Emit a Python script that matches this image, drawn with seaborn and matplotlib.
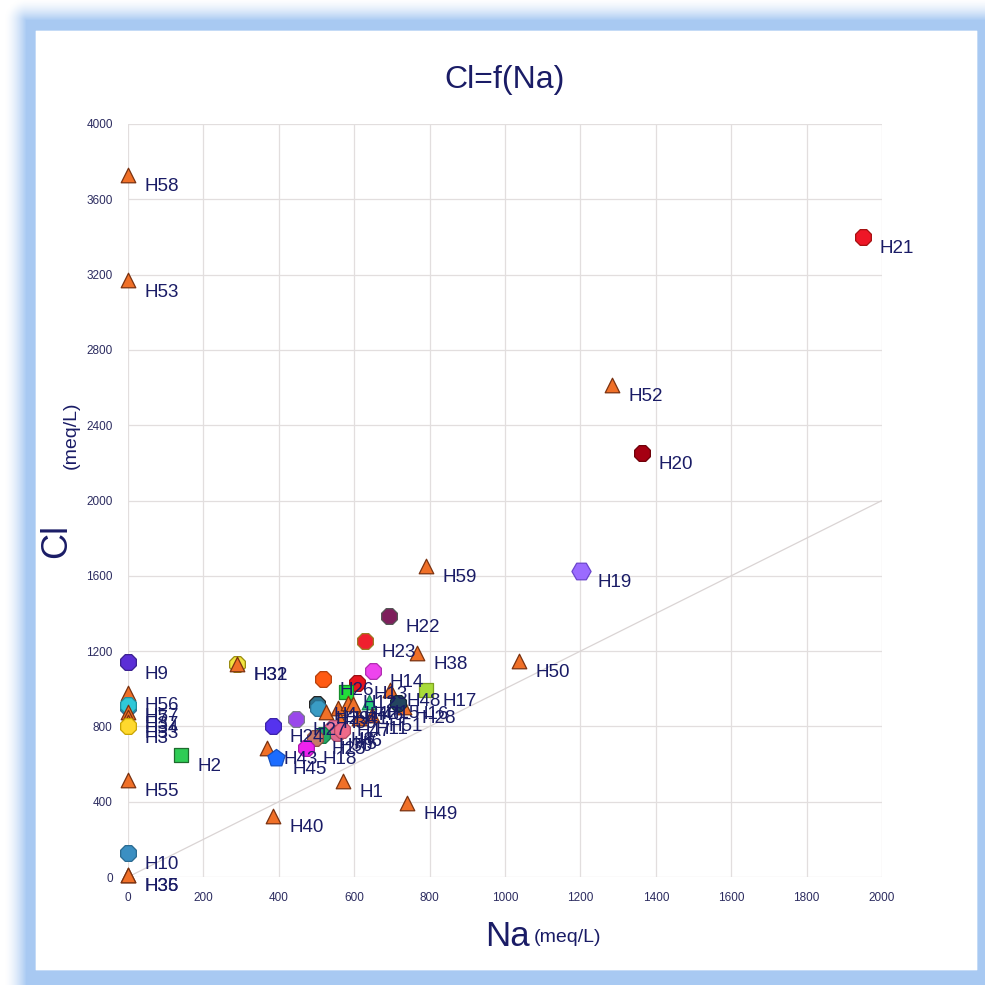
import numpy as np
import pandas as pd
import matplotlib
matplotlib.use("Agg")
import matplotlib.pyplot as plt
import seaborn as sns

# Well identifiers and their sodium / chloride concentrations (meq/L)
wells = ["H58", "H53", "H9", "H56", "H7", "H57", "H37", "H34", "H33", "H3",
         "H55", "H10", "H35", "H36", "H2", "H32", "H31", "H40", "H1", "H49",
         "H50", "H59", "H52", "H20", "H19", "H21", "H22", "H23", "H38", "H14",
         "H26", "H13", "H12", "H48", "H17", "H28", "H16", "H15", "H4", "H29",
         "H39", "H41", "H42", "H46", "H47", "H51", "H11", "H27", "H24", "H43",
         "H45", "H8", "H5", "H30", "H25", "H18", "H6"]
na_meq = [0, 0, 0, 0, 0, 0, 0, 0, 0, 0,
          0, 0, 0, 0, 141, 289, 289, 385, 570, 740,
          1037, 790, 1284, 1363, 1202, 1950, 692, 629, 767, 650,
          517, 607, 578, 695, 790, 733, 716, 639, 502, 505,
          525, 557, 584, 597, 562, 647, 612, 446, 385, 368,
          392, 545, 555, 515, 496, 472, 568]
cl_meq = [3730, 3170, 1140, 975, 905, 915, 875, 850, 825, 800,
          515, 128, 10, 10, 648, 1131, 1131, 324, 510, 393,
          1147, 1652, 2615, 2252, 1625, 3400, 1386, 1254, 1190, 1094,
          1052, 1031, 983, 995, 993, 905, 924, 930, 920, 898,
          876, 898, 924, 918, 834, 861, 845, 839, 802, 686,
          632, 790, 765, 754, 738, 685, 781]

# Marker styles: default is an orange triangle, others overridden per well
TRI = ("^", "#f07028", "#7a3210")
well_style = {
    "H9": ("8", "#5b2fd6", "#3a2090"),
    "H7": ("8", "#3b8fc2", "#2a6a90"),
    "H57": ("8", "#2fc8d8", "#1f909e"),
    "H3": ("8", "#ffd92e", "#c9a400"),
    "H10": ("8", "#3b8fc2", "#2a6a90"),
    "H2": ("s", "#2fcc55", "#1e6b2e"),
    "H32": ("8", "#f2e440", "#9a8c10"),
    "H20": ("8", "#a50012", "#6e0008"),
    "H19": ("H", "#9b6bff", "#6b45cc"),
    "H21": ("8", "#ee1626", "#a51010"),
    "H22": ("8", "#7e1f5c", "#555555"),
    "H23": ("8", "#f0202e", "#9c7a22"),
    "H14": ("8", "#ee44ee", "#b02cb0"),
    "H26": ("8", "#ff5a12", "#b5400c"),
    "H13": ("8", "#e8141e", "#9a0d12"),
    "H12": ("s", "#22dd3a", "#15902a"),
    "H17": ("s", "#a8dc3a", "#7ea020"),
    "H16": ("8", "#24455f", "#152838"),
    "H15": ("^", "#25cc7a", "#158850"),
    "H4": ("8", "#2f7590", "#222222"),
    "H29": ("8", "#3a9cc4", "#2a7090"),
    "H27": ("8", "#9a48ea", "#7a7a8a"),
    "H24": ("8", "#5533ee", "#3a22a8"),
    "H45": ("p", "#1c6cff", "#1450c0"),
    "H8": ("8", "#f07aa0", "#b05070"),
    "H5": ("8", "#e06a90", "#a04a66"),
    "H30": ("8", "#22a866", "#157a45"),
    "H25": ("8", "#c87a66", "#8a5040"),
    "H18": ("8", "#ee22ee", "#aa18aa"),
    "H6": ("8", "#ee6a8a", "#b04a62"),
}
marker_area = {"^": 110, "8": 150, "s": 90, "H": 190, "p": 170}

df = pd.DataFrame({"well": wells, "Na": na_meq, "Cl": cl_meq})

NAVY = "#1a1c66"
W = H = 985
fig = plt.figure(figsize=(W / 100, H / 100), dpi=100)

# Soft blue frame behind a white card
yy, xx = np.mgrid[0:H, 0:W].astype(float)
def rect_dist(x0, y0, x1, y1):
    dx = np.maximum(np.maximum(x0 - xx, xx - x1), 0)
    dy = np.maximum(np.maximum(y0 - yy, yy - y1), 0)
    return np.hypot(dx, dy)
glow = np.clip(1 - rect_dist(26, 20, 1010, 1010) / 22.0, 0, 1) ** 1.6
card = np.clip(1 - rect_dist(36, 31, 976, 969) / 1.5, 0, 1)
blue = np.array([0.66, 0.79, 0.95])
img = np.ones((H, W, 3))
img = img * (1 - glow[..., None]) + blue * glow[..., None]
img = img * (1 - card[..., None]) + card[..., None]
bg = fig.add_axes([0, 0, 1, 1], zorder=-10)
bg.imshow(img, extent=(0, 1, 0, 1), aspect="auto", interpolation="bilinear")
bg.axis("off")

sns.set_style("white")
plt.rcParams["font.family"] = ["Liberation Sans", "DejaVu Sans"]

ax = fig.add_axes([128 / W, 1 - 877 / H, 754 / W, 753 / H])
ax.set_facecolor("white")
ax.set_xlim(0, 2000)
ax.set_ylim(0, 4000)
ax.set_xticks(np.arange(0, 2001, 200))
ax.set_yticks(np.arange(0, 4001, 400))
ax.grid(True, color="#e2dede", lw=0.9)
ax.set_axisbelow(True)
for sp in ax.spines.values():
    sp.set_visible(False)
ax.tick_params(axis="both", direction="out", length=7, width=1.0,
               color="#c9a3a3", labelsize=8.5, labelcolor="#2c2c60", pad=4)
ax.set_xlabel("")
ax.set_ylabel("")

# 1:1 reference line
ax.plot([0, 2000], [0, 2000], color="#dad4d4", lw=0.9, zorder=1)

for _, row in df.iterrows():
    m, fc, ec = well_style.get(row["well"], TRI)
    sns.scatterplot(x=[row["Na"]], y=[row["Cl"]], marker=m, s=marker_area[m],
                    color=fc, edgecolor=ec, linewidth=0.9, ax=ax,
                    clip_on=False, zorder=3, legend=False)
for _, row in df.iterrows():
    ax.annotate(row["well"], (row["Na"], row["Cl"]), xytext=(12, -8.5),
                textcoords="offset points", ha="left", va="center",
                fontsize=13.5, color=NAVY, zorder=4, annotation_clip=False)

fig.text(505 / W, 1 - 80 / H, "Cl=f(Na)", ha="center", va="center",
         fontsize=23, color=NAVY)
fig.text(530 / W, 1 - 936 / H, "Na", ha="right", va="center",
         fontsize=25, color=NAVY)
fig.text(534 / W, 1 - 938 / H, "(meq/L)", ha="left", va="center",
         fontsize=14, color=NAVY)
fig.text(57 / W, 1 - 541 / H, "Cl", ha="center", va="center", rotation=90,
         fontsize=26, color=NAVY)
fig.text(71 / W, 1 - 435 / H, "(meq/L)", ha="center", va="center", rotation=90,
         fontsize=14, color=NAVY)

fig.savefig("out.png", dpi=100)
